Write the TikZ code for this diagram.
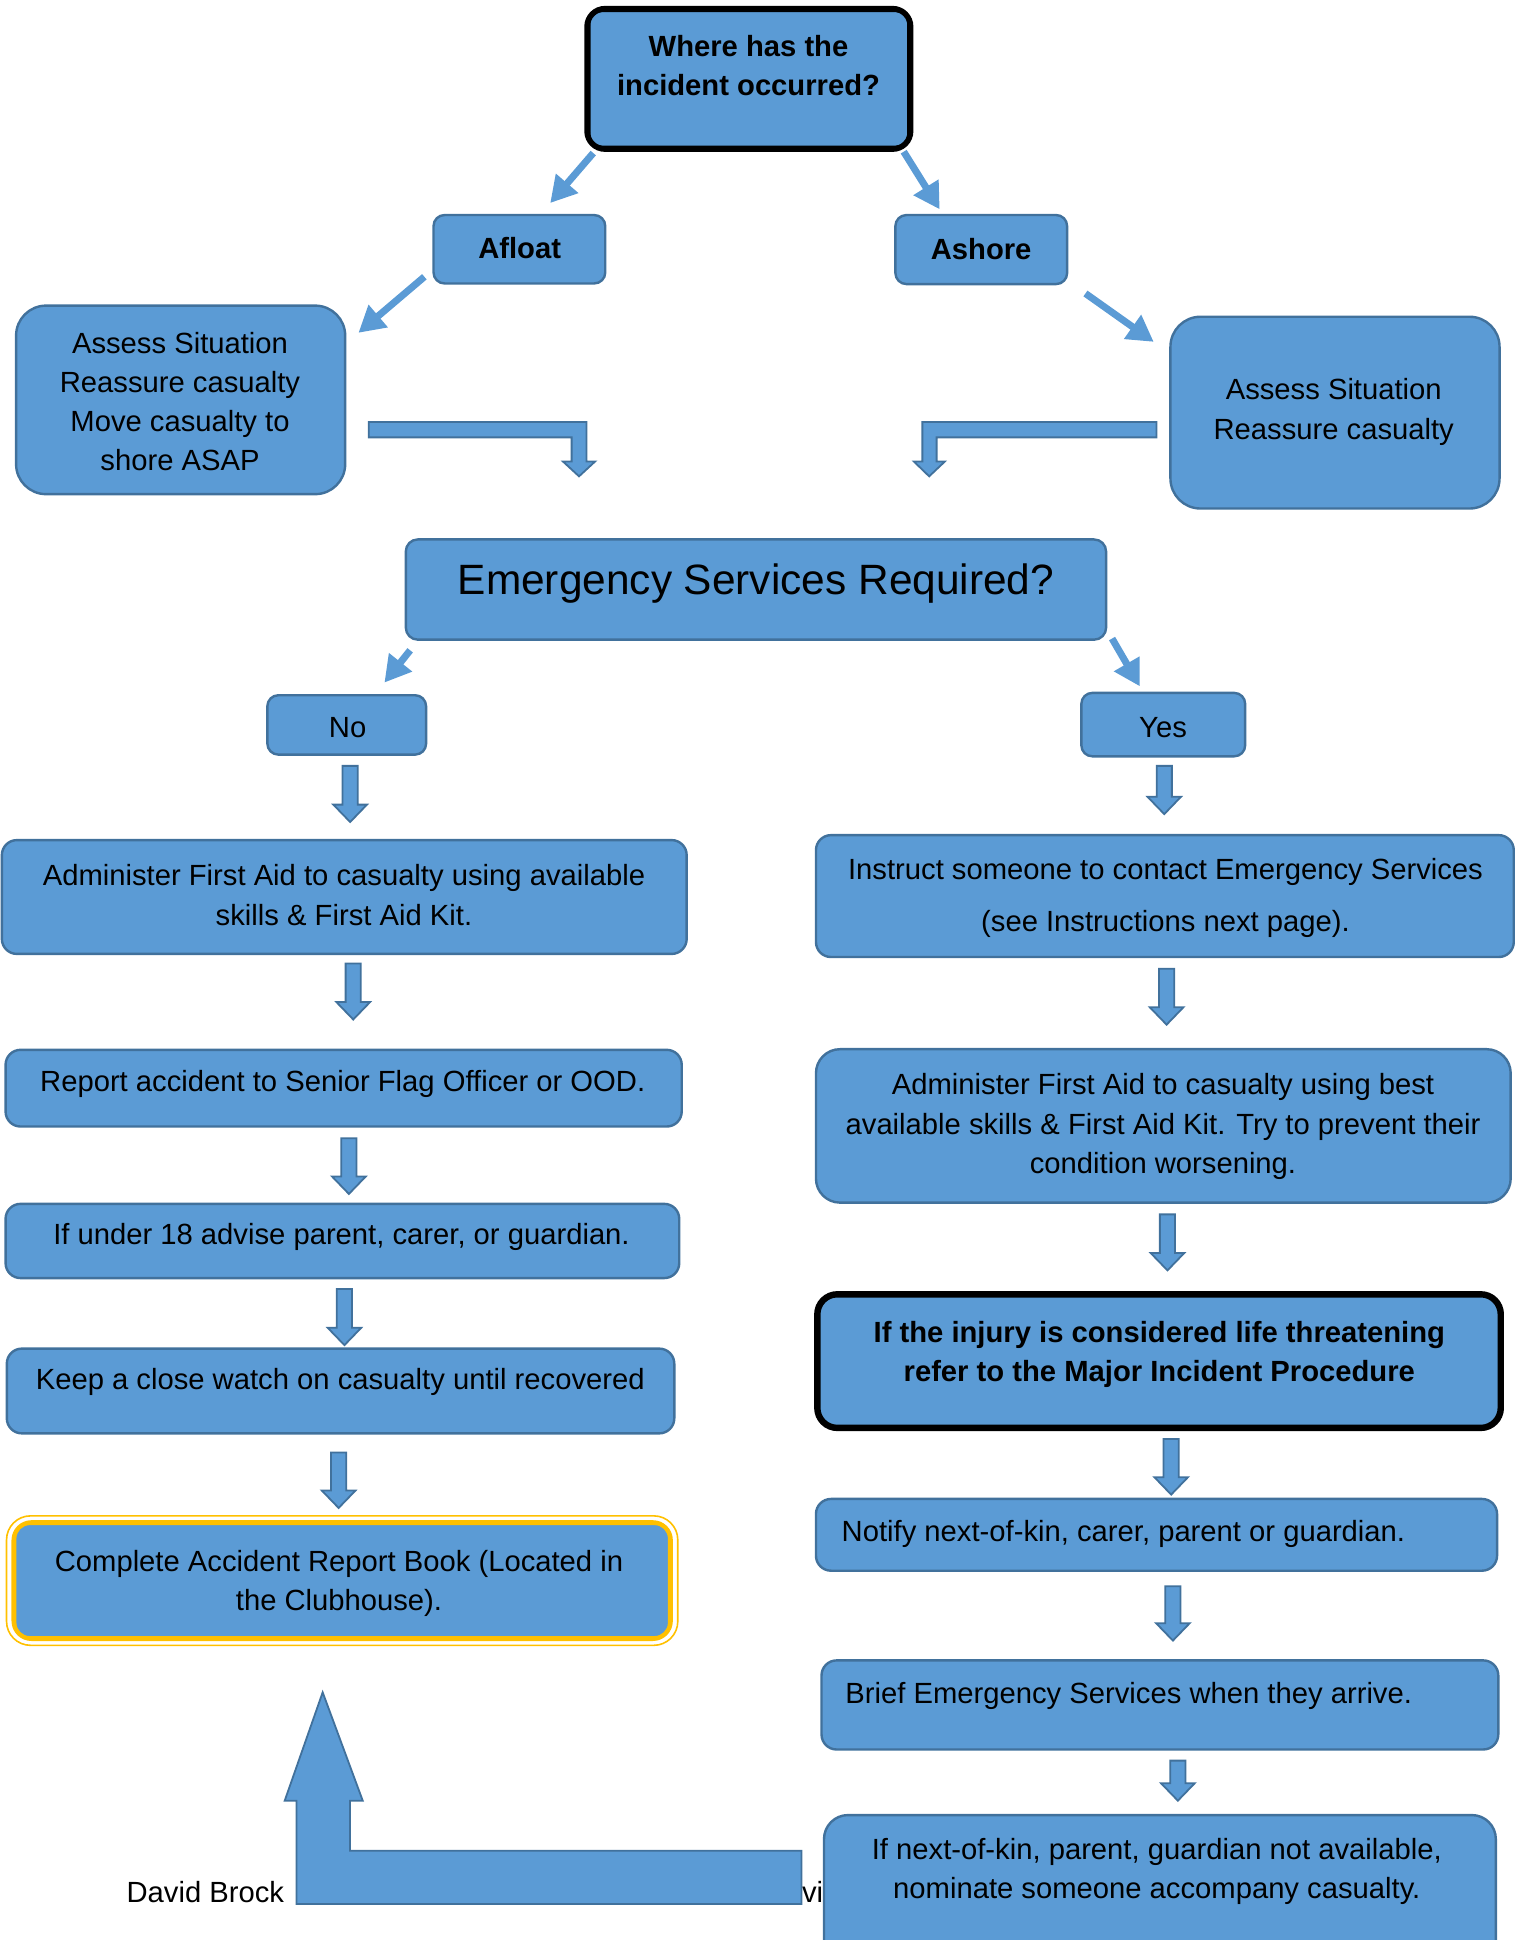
\documentclass[tikz,border=0pt]{standalone}
\usepackage{fontspec}
\setmainfont{Liberation Sans}
\usetikzlibrary{arrows.meta,fit,calc}
\definecolor{fillc}{HTML}{5B9BD5}
\definecolor{bdrc}{HTML}{41719C}
\definecolor{goldc}{HTML}{FFC000}
\newcommand{\vblock}[2]{%
  \draw[blockarr] let \p1=(#1), \p2=(#2) in
    (\x1-3.8pt,\y1) -- (\x1+3.8pt,\y1) -- (\x1+3.8pt,\y2+8.7pt) -- (\x1+8.4pt,\y2+8.7pt)
    -- (\x1,\y2) -- (\x1-8.4pt,\y2+8.7pt) -- (\x1-3.8pt,\y2+8.7pt) -- cycle;}
\begin{document}
\begin{tikzpicture}[x=0.6184pt,y=-0.6184pt,
  box/.style={draw=bdrc, fill=fillc, line width=1.2pt, inner sep=0pt, rounded corners=7.5pt},
  sbox/.style={box, rounded corners=5.5pt},
  lbox/.style={box, rounded corners=15pt},
  txt/.style={font=\fontsize{14.6}{19.6}\selectfont, align=center, inner sep=0pt},
  btxt/.style={txt, font=\fontsize{14.6}{19.6}\selectfont\bfseries},
  darrow/.style={draw=fillc, line width=3.5pt, -{Triangle[width=14pt,length=13pt]}},
  blockarr/.style={draw=bdrc, fill=fillc, line width=0.9pt, line join=miter}]
\clip (0,0) rectangle (1229,1568);

% footer text (partly hidden)
\node[txt, anchor=west] (author) at (102,1529) {David Brock};
\node[txt, anchor=west] (vitxt) at (648,1529) {vi};

% top question
\node[draw=black, line width=2.8pt, fill=fillc, rounded corners=9pt, inner sep=0pt,
      fit={(474.5,7) (736,120.5)}] (q) {};
\draw[black, line width=0.7pt, rounded corners=6pt]
  ($(q.north west)+(4.5,4.5)$) rectangle ($(q.south east)+(-4.5,-4.5)$);
\node[btxt] (qt) at (605,53) {Where has the\\incident occurred?};

% afloat / ashore
\node[sbox, fit={(350.4,173.8) (489.2,229.1)}] (afloat) {};
\node[btxt] (afloatt) at (420,200.5) {Afloat};
\node[sbox, fit={(723.7,173.8) (862.5,229.6)}] (ashore) {};
\node[btxt] (ashoret) at (793,201) {Ashore};

% assess boxes
\node[lbox, fit={(13,247) (279,399.4)}] (assL) {};
\node[txt] (assLt) at (145.5,324.5) {Assess Situation\\Reassure casualty\\Move casualty to\\shore ASAP};
\node[lbox, fit={(946,256) (1212,411)}] (assR) {};
\node[txt] (assRt) at (1078,333) {Assess Situation\\Reassure casualty};

% diagonal arrows
\coordinate (d1s) at (479.5,123.7); \coordinate (d1e) at (444.7,164.1);
\coordinate (d2s) at (730.4,122.6); \coordinate (d2e) at (759.5,169.2);
\coordinate (d3s) at (343,223.7);   \coordinate (d3e) at (289.7,269);
\coordinate (d4s) at (877.3,237.2); \coordinate (d4e) at (932.5,276.3);
\coordinate (d5s) at (331.5,525.6); \coordinate (d5e) at (310.7,551.7);
\coordinate (d6s) at (898.8,516.1); \coordinate (d6e) at (921.2,554.7);
\foreach \i in {1,...,6} {\draw[darrow] (d\i s) -- (d\i e);}

% bent arrows
\draw[blockarr] (298,341) -- (474,341) -- (474,373) -- (481,373) -- (468,385)
  -- (455,373) -- (462,373) -- (462,353.5) -- (298,353.5) -- cycle;
\draw[blockarr] (934.7,341) -- (745.5,341) -- (745.5,373) -- (738.6,373) -- (751,385)
  -- (763.7,373) -- (757,373) -- (757,353.5) -- (934.7,353.5) -- cycle;

% emergency
\node[box, rounded corners=6pt, fit={(328,436) (894,517)}] (emerg) {};
\node[txt, font=\fontsize{21.2}{26}\selectfont] (emergt) at (611,471.5) {Emergency Services Required?};

\node[sbox, fit={(216.1,561.9) (344.4,609.9)}] (no) {};
\node[txt] (not) at (281,588) {No};
\node[sbox, fit={(874,560) (1006.4,611.3)}] (yes) {};
\node[txt] (yest) at (940,588) {Yes};

% left column
\node[box, fit={(1.5,679) (555,771)}] (l1) {};
\node[txt] (l1t) at (278,723.5) {Administer First Aid to casualty using available\\skills \& First Aid Kit.};
\node[box, fit={(4.5,848.5) (551,910.5)}] (l2) {};
\node[txt] (l2t) at (277,876) {Report accident to Senior Flag Officer or OOD.};
\node[box, fit={(4.5,973) (549,1033)}] (l3) {};
\node[txt] (l3t) at (276,1000) {If under 18 advise parent, carer, or guardian.};
\node[box, fit={(5.5,1090) (545,1158.5)}] (l4) {};
\node[txt] (l4t) at (275,1117) {Keep a close watch on casualty until recovered};
\node[draw=goldc, fill=fillc, line width=2pt, rounded corners=9pt, inner sep=0pt,
      fit={(10.9,1230.3) (542.2,1324.7)}] (l5) {};
\draw[goldc, line width=0.8pt, rounded corners=12pt]
  ($(l5.north west)+(-4,-3.5)$) rectangle ($(l5.south east)+(4,3.5)$);
\draw[goldc, line width=0.6pt, rounded corners=7pt]
  ($(l5.north west)+(3.5,3.5)$) rectangle ($(l5.south east)+(-3.5,-3.5)$);
\node[txt] (l5t) at (274,1280) {Complete Accident Report Book (Located in\\the Clubhouse).};

% right column
\node[box, fit={(659.5,675) (1223.5,773.5)}] (r1) {};
\node[txt, font=\fontsize{14.6}{26}\selectfont] (r1t) at (942,726) {Instruct someone to contact Emergency Services\\(see Instructions next page).};
\node[box, rounded corners=12pt, fit={(659.5,848) (1221,972)}] (r2) {};
\node[txt] (r2t) at (940,910.5) {Administer First Aid to casualty using best\\available skills \& First Aid Kit. Try to prevent their\\condition worsening.};
\node[draw=black, fill=fillc, line width=3.2pt, rounded corners=10pt, inner sep=0pt,
      fit={(660.6,1046.1) (1213,1154.1)}] (r3) {};
\node[btxt] (r3t) at (937,1095) {If the injury is considered life threatening\\refer to the Major Incident Procedure};
\node[box, fit={(659.5,1211.5) (1210,1269.5)}] (r4) {};
\node[txt, anchor=west] (r4t) at (680,1240) {Notify next-of-kin, carer, parent or guardian.};
\node[box, fit={(664,1342) (1211,1414)}] (r5) {};
\node[txt, anchor=west] (r5t) at (683,1370.5) {Brief Emergency Services when they arrive.};

% vertical block arrows
\coordinate (v1s) at (283,619);     \coordinate (v1e) at (283,664.4);
\coordinate (v2s) at (941,619);     \coordinate (v2e) at (941,658);
\coordinate (v3s) at (285.5,778.8); \coordinate (v3e) at (285.5,824);
\coordinate (v4s) at (282,920);     \coordinate (v4e) at (282,965);
\coordinate (v5s) at (278.4,1041.8);\coordinate (v5e) at (278.4,1087.2);
\coordinate (v6s) at (273.7,1173.9);\coordinate (v6e) at (273.7,1218.8);
\coordinate (v7s) at (942.9,783);   \coordinate (v7e) at (942.9,828.2);
\coordinate (v8s) at (943.6,981.5); \coordinate (v8e) at (943.6,1026.8);
\coordinate (v9s) at (946.6,1163.1);\coordinate (v9e) at (946.6,1208);
\coordinate (v10s) at (948,1282);   \coordinate (v10e) at (948,1326);
\coordinate (v11s) at (952,1423);   \coordinate (v11e) at (952,1455.4);
\foreach \i in {1,...,11} {\vblock{v\i s}{v\i e}}

% big return arrow
\draw[blockarr] (647.8,1495.8) -- (282.9,1495.8) -- (282.9,1455.4) -- (293.2,1455.4)
  -- (260.8,1367.8) -- (230.1,1455.4) -- (239.6,1455.4) -- (239.6,1538.9)
  -- (647.8,1538.9) -- cycle;

% last box
\node[box, rounded corners=12pt, fit={(666,1467) (1209,1620)}] (r6) {};
\node[txt] (r6t) at (935,1512.5) {If next-of-kin, parent, guardian not available,\\nominate someone accompany casualty.};
\end{tikzpicture}
\end{document}
